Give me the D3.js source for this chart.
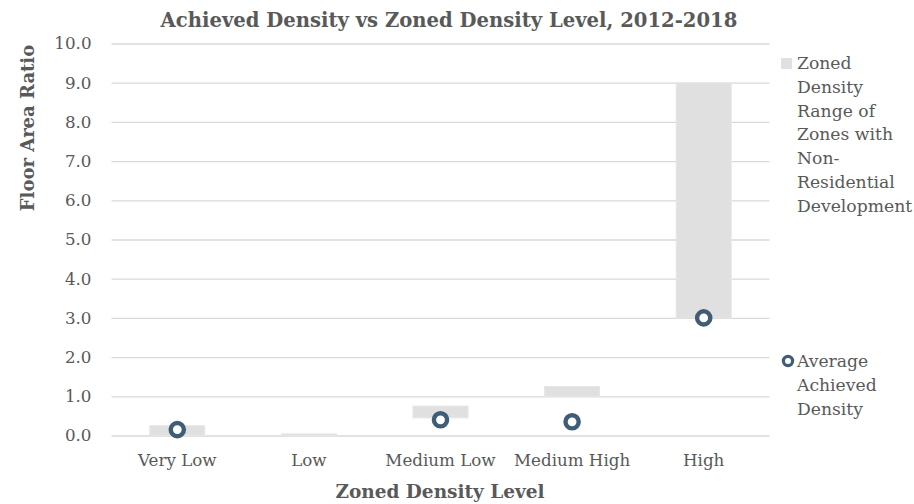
<!DOCTYPE html>
<html>
<head>
<meta charset="utf-8">
<script src="https://cdn.jsdelivr.net/npm/d3@7/dist/d3.min.js"></script>
<style>
  html, body { margin: 0; padding: 0; background: #ffffff; }
  svg { display: block; }
  text { font-family: "DejaVu Serif", "Liberation Serif", serif; fill: #595959; }
</style>
</head>
<body>
<svg id="chart" width="914" height="504"></svg>
<script>
const categories = ["Very Low", "Low", "Medium Low", "Medium High", "High"];
const rangeLow = [0, 0, 0.45, 1.0, 3.0];
const rangeHigh = [0.25, 0.04, 0.75, 1.25, 9.0];
const achieved = [0.15, null, 0.4, 0.35, 3.0];
const yTicks = [0, 1, 2, 3, 4, 5, 6, 7, 8, 9, 10];
const titleText = "Achieved Density vs Zoned Density Level, 2012-2018";
const yTitle = "Floor Area Ratio";
const xTitle = "Zoned Density Level";
const legendRange = ["Zoned", "Density", "Range of", "Zones with", "Non-", "Residential", "Development"];
const legendAvg = ["Average", "Achieved", "Density"];

const svg = d3.select("#chart");
const plotLeft = 111.5, plotRight = 769.5, plotTop = 43.5, plotBottom = 435.5;

const x = d3.scaleBand().domain(categories).range([plotLeft, plotRight])
  .paddingInner(0.582).paddingOuter(0.291);
const y = d3.scaleLinear().domain([0, 10]).range([plotBottom, plotTop]);

// gridlines + y tick labels
const yAxis = svg.append("g")
  .attr("transform", `translate(${plotLeft},0)`)
  .call(d3.axisLeft(y).tickValues(yTicks).tickFormat(d3.format(".1f"))
    .tickSize(-(plotRight - plotLeft)).tickPadding(20));
yAxis.select(".domain").remove();
yAxis.selectAll(".tick line").attr("stroke", "#d9d9d9").attr("stroke-width", 1.3);
yAxis.selectAll(".tick text").attr("font-size", 16.7).attr("fill", "#595959")
  .attr("font-family", "DejaVu Serif");

// floating range bars
const rows = categories.map((c, i) => ({ c, lo: rangeLow[i], hi: rangeHigh[i], a: achieved[i] }));
svg.append("g").selectAll("rect").data(rows).join("rect")
  .attr("x", d => x(d.c))
  .attr("width", x.bandwidth())
  .attr("y", d => y(d.hi))
  .attr("height", d => Math.max(2, y(d.lo) - y(d.hi)))
  .attr("fill", "#e0e0e0")
  .attr("stroke", "#e6e6e6").attr("stroke-width", 1);

// achieved markers
svg.append("g").selectAll("circle").data(rows.filter(d => d.a !== null)).join("circle")
  .attr("cx", d => x(d.c) + x.bandwidth() / 2)
  .attr("cy", d => y(d.a))
  .attr("r", 6.6)
  .attr("fill", "#ffffff")
  .attr("stroke", "#3f5d77").attr("stroke-width", 4.4);

// x category labels
const xAxis = svg.append("g")
  .attr("transform", `translate(0,${plotBottom})`)
  .call(d3.axisBottom(x).tickSize(0).tickPadding(19));
xAxis.select(".domain").remove();
xAxis.selectAll(".tick text").attr("font-size", 16.7).attr("fill", "#595959")
  .attr("font-family", "DejaVu Serif");

// titles
svg.append("text").attr("x", 449).attr("y", 27).attr("text-anchor", "middle")
  .attr("font-size", 19.6).attr("font-weight", "bold").text(titleText);
svg.append("text").attr("transform", "translate(34,128) rotate(-90)")
  .attr("text-anchor", "middle").attr("font-size", 18).attr("font-weight", "bold").text(yTitle);
svg.append("text").attr("x", 440).attr("y", 498).attr("text-anchor", "middle")
  .attr("font-size", 18.5).attr("font-weight", "bold").text(xTitle);

// legend
const lg = svg.append("g");
lg.append("rect").attr("x", 781).attr("y", 58).attr("width", 11).attr("height", 11).attr("fill", "#e0e0e0");
lg.append("text").attr("x", 797).attr("font-size", 17.2)
  .selectAll("tspan").data(legendRange).join("tspan")
  .attr("x", 797).attr("y", (d, i) => 69 + i * 23.8).text(d => d);
lg.append("circle").attr("cx", 788).attr("cy", 361).attr("r", 4.6)
  .attr("fill", "#ffffff").attr("stroke", "#3f5d77").attr("stroke-width", 3.2);
lg.append("text").attr("x", 797).attr("font-size", 17.2)
  .selectAll("tspan").data(legendAvg).join("tspan")
  .attr("x", 797).attr("y", (d, i) => 367 + i * 23.8).text(d => d);
</script>
</body>
</html>
